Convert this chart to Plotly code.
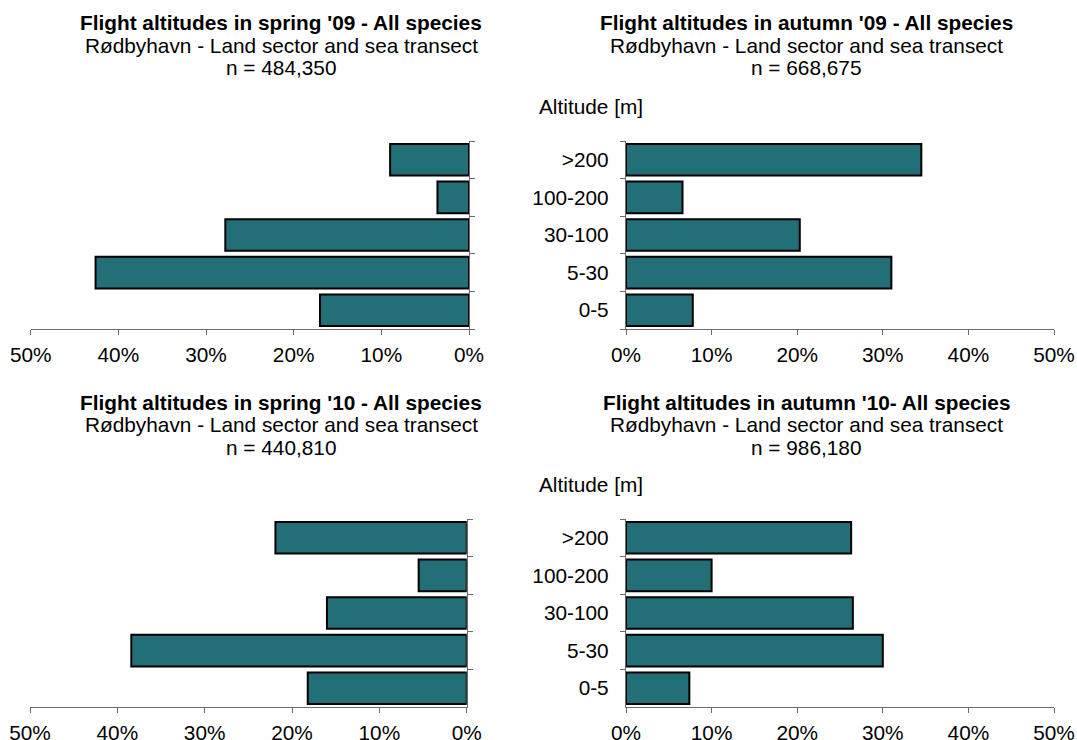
import plotly.graph_objects as go

# ---------------- data ----------------
categories = ["0-5", "5-30", "30-100", "100-200", ">200"]
spring09 = [17.0, 42.6, 27.8, 3.6, 9.0]
autumn09 = [7.8, 31.0, 20.3, 6.6, 34.5]
spring10 = [18.2, 38.4, 16.0, 5.5, 21.9]
autumn10 = [7.4, 30.0, 26.5, 10.0, 26.3]

titles = [
    "Flight altitudes in spring '09 - All species",
    "Flight altitudes in autumn '09 - All species",
    "Flight altitudes in spring '10 - All species",
    "Flight altitudes in autumn '10- All species",
]
subtitle = "Rødbyhavn - Land sector and sea transect"
n_labels = ["n = 484,350", "n = 668,675", "n = 440,810", "n = 986,180"]
axis_title = "Altitude [m]"
x_ticks = [0, 10, 20, 30, 40, 50]
x_ticktext = [f"{v}%" for v in x_ticks]

# ---------------- style / layout ----------------
W, H = 1077, 740
FONT = "Liberation Sans, Arial, sans-serif"
FS = 20.8
BAR = "#236F78"
AXIS = "#6b6b6b"

def px(x):
    return x / W

def py(y):
    return 1 - y / H

# pixel boxes (as seen on screen): (x0, x1, ytop, ybottom), mirrored flag
panels = [
    dict(data=spring09, box=(30.7, 469.0, 141, 329), mirror=True, tx=281),
    dict(data=autumn09, box=(626.0, 1054.0, 141, 329), mirror=False, tx=806),
    dict(data=spring10, box=(30.0, 466.7, 519, 707), mirror=True, tx=281),
    dict(data=autumn10, box=(626.0, 1054.0, 519, 707), mirror=False, tx=806),
]
title_y = [(22.5, 45, 67.5), (22.5, 45, 67.5), (402, 424.5, 447), (402, 424.5, 447)]

fig = go.Figure()
annotations = []
layout = dict(
    template="none",
    width=W, height=H,
    margin=dict(l=0, r=0, t=0, b=0, autoexpand=False),
    paper_bgcolor="white", plot_bgcolor="white",
    showlegend=False,
    bargap=0.16,
    font=dict(family=FONT, size=FS, color="black"),
)

for i, p in enumerate(panels):
    k = "" if i == 0 else str(i + 1)
    x0, x1, yt, yb = p["box"]
    fig.add_trace(go.Bar(
        x=p["data"], y=categories, orientation="h",
        xaxis="x" + k, yaxis="y" + k,
        marker=dict(color=BAR, line=dict(color="black", width=2)),
        hoverinfo="x+y",
    ))
    layout["xaxis" + k] = dict(
        domain=[px(x0), px(x1)], anchor="y" + k, automargin=False,
        range=[50, 0] if p["mirror"] else [0, 50],
        tickmode="array", tickvals=x_ticks, ticktext=x_ticktext,
        showline=True, linecolor=AXIS, linewidth=1.3,
        ticks="outside", ticklen=5, tickcolor=AXIS, tickwidth=1.3,
        showgrid=False, zeroline=False, fixedrange=True,
        tickfont=dict(family=FONT, size=FS, color="black"),
        ticklabelstandoff=2,
    )
    layout["yaxis" + k] = dict(
        domain=[py(yb), py(yt)], anchor="x" + k, automargin=False,
        type="category", categoryorder="array", categoryarray=categories,
        side="right" if p["mirror"] else "left",
        showticklabels=not p["mirror"],
        showline=True, linecolor=AXIS, linewidth=1.3,
        ticks="outside", ticklen=5, tickcolor=AXIS, tickwidth=1.3,
        tickson="boundaries",
        showgrid=False, zeroline=False, fixedrange=True,
        tickfont=dict(family=FONT, size=FS, color="black"),
        ticklabelstandoff=12,
    )
    ty = title_y[i]
    annotations.append(dict(text="<b>" + titles[i] + "</b>", x=px(p["tx"]), y=py(ty[0]),
                            xref="paper", yref="paper", showarrow=False,
                            xanchor="center", yanchor="middle",
                            font=dict(family=FONT, size=FS, color="black")))
    annotations.append(dict(text=subtitle, x=px(p["tx"]), y=py(ty[1]),
                            xref="paper", yref="paper", showarrow=False,
                            xanchor="center", yanchor="middle",
                            font=dict(family=FONT, size=FS, color="black")))
    annotations.append(dict(text=n_labels[i], x=px(p["tx"]), y=py(ty[2]),
                            xref="paper", yref="paper", showarrow=False,
                            xanchor="center", yanchor="middle",
                            font=dict(family=FONT, size=FS, color="black")))
    if not p["mirror"]:
        annotations.append(dict(text=axis_title, x=px(537), y=py(yt - 34.5),
                                xref="paper", yref="paper", showarrow=False,
                                xanchor="left", yanchor="middle",
                                font=dict(family=FONT, size=FS, color="black")))

layout["annotations"] = annotations
fig.update_layout(**layout)
fig.write_html(
    "out.html",
    config={"displayModeBar": False},
    post_script="document.body.style.margin='0';document.body.style.overflow='hidden';",
)
